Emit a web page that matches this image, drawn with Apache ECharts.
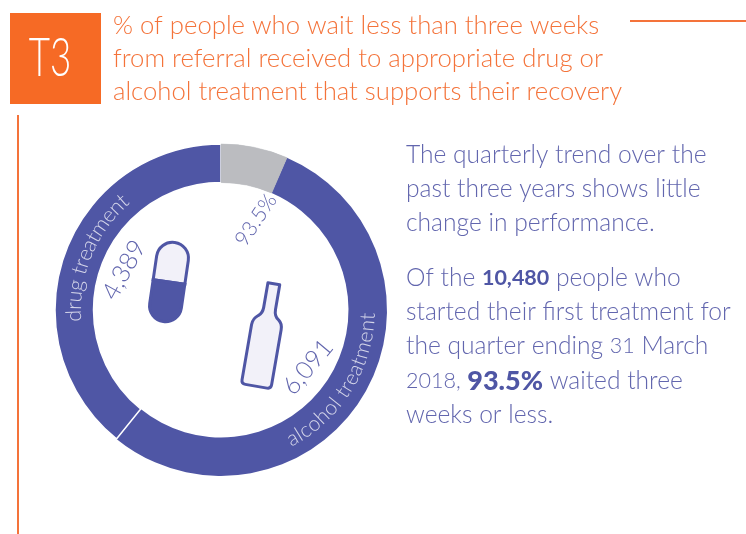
<!DOCTYPE html>
<html><head><meta charset="utf-8">
<style>html,body{margin:0;padding:0;background:#fff}#c{width:746px;height:534px}</style>
<script src="https://cdn.jsdelivr.net/npm/echarts@6/dist/echarts.min.js"></script></head>
<body><div id="c"></div>
<script>
const badge = 'T3';
const titleLines = ['% of people who wait less than three weeks','from referral received to appropriate drug or','alcohol treatment that supports their recovery'];
const bodyLines = ['The quarterly trend over the','past three years shows little','change in performance.','Of the {b|10,480} people who','started their first treatment for','the quarter ending {n|31} March','{n|2018,} {c|93.5%} waited three','weeks or less.'];
const bodyBaselines = [155,189,223,278,312,346,381,415];
const categories = ['waited longer','alcohol treatment','drug treatment'];
const values = [729,6091,4389];
const pct = '93.5%';
const FONT='Lato', ORANGE='#F4733A', BLUE='#4F56A5', TXT='#6266AE';
const cx=221, cy=310;

echarts.graphic.registerShape('pillTop',echarts.graphic.extendPath('M-16,0 V-24 A16,16 0 0 1 16,-24 V0 Z',{}));
echarts.graphic.registerShape('pillBottom',echarts.graphic.extendPath('M-16,0 V24 A16,16 0 0 0 16,24 V0 Z',{}));
echarts.graphic.registerShape('bottle',echarts.graphic.extendPath('M-6,-52 L6,-52 L6,-27 Q6,-20 11,-17 Q15,-14 15,-8 L15,48 Q15,52 11,52 L-11,52 Q-15,52 -15,48 L-15,-8 Q-15,-14 -10,-18 Q-6,-21 -6,-27 Z',{}));

function arcText(str, r, midDeg, dir, size){
  const ctx=document.createElement('canvas').getContext('2d');
  ctx.font='300 '+size+'px '+FONT;
  const total=ctx.measureText(str).width, out=[];
  for(let i=0;i<str.length;i++){
    const x=ctx.measureText(str.slice(0,i)).width+ctx.measureText(str[i]).width/2-total/2;
    const a=midDeg+dir*x/r*180/Math.PI, t=a*Math.PI/180;
    out.push({type:'text',x:cx+r*Math.sin(t),y:cy-r*Math.cos(t),
      rotation:dir>0?-t:Math.PI-t,z:10,
      style:{text:str[i],fill:'#D5D6EA',font:'300 '+size+'px '+FONT,align:'center',verticalAlign:'middle'}});
  }
  return out;
}
function rot(text,x,y,deg,size){return {type:'text',x,y,rotation:deg*Math.PI/180,z:10,
  style:{text,fill:TXT,font:'300 '+size+'px '+FONT,align:'center',verticalAlign:'middle'}};}

const g=[
 {type:'rect',shape:{x:10,y:13,width:91,height:91},style:{fill:'#F66A25'}},
 {type:'text',x:50,y:59,scaleX:0.68,style:{text:badge,fill:'#fff',font:'300 54px '+FONT,align:'center',verticalAlign:'middle'}},
 {type:'rect',shape:{x:630,y:20,width:116,height:2},style:{fill:ORANGE}},
 {type:'rect',shape:{x:17,y:115,width:2,height:419},style:{fill:ORANGE}},
];
titleLines.forEach((t,i)=>g.push({type:'text',x:113,y:26+33*i,style:{text:t,fill:ORANGE,font:'300 25.7px '+FONT,align:'left',verticalAlign:'middle'}}));
bodyLines.forEach((t,i)=>g.push({type:'text',x:406,y:bodyBaselines[i],style:{text:t,fill:TXT,font:'300 24.6px '+FONT,align:'left',verticalAlign:'middle',
  rich:{b:{font:'700 21.5px '+FONT,fill:BLUE},c:{font:'900 27px '+FONT,fill:BLUE},n:{font:'300 21.5px '+FONT,fill:TXT}}}}));
g.push(rot(pct,256,220,56,21),rot(values[2].toLocaleString('en-US'),124,270,61,25),rot(values[1].toLocaleString('en-US'),308,367,50,25));
g.push(...arcText(categories[2],147,292.5,1,21.5),...arcText(categories[1],147,122,-1,21));
// pill
g.push({type:'group',x:169,y:282,rotation:-8.3*Math.PI/180,children:[
 {type:'pillTop',z:10,style:{fill:'#F2F1F9',stroke:BLUE,lineWidth:3}},
 {type:'pillBottom',z:10,style:{fill:BLUE,stroke:BLUE,lineWidth:3}}
]});
// bottle
g.push({type:'bottle',x:265,y:335,rotation:-9.8*Math.PI/180,z:10,
 style:{fill:'#F2F1F9',stroke:BLUE,lineWidth:3,lineJoin:'round'}});

const ring=values.map((v,i)=>({name:categories[i],value:v,itemStyle:{color:i===0?'#BBBCC0':BLUE,
  borderColor:i===2?'#fff':undefined,borderWidth:i===2?1.5:0}}));
const total=values.reduce((a,b)=>a+b,0);
const chart=echarts.init(document.getElementById('c'),null,{renderer:'canvas'});
chart.setOption({animation:false,backgroundColor:'#fff',
 series:[
  {type:'pie',center:[cx,cy],radius:[127.5,166],startAngle:90,clockwise:true,label:{show:false},labelLine:{show:false},silent:true,data:ring},
  {type:'pie',center:[cx,cy],radius:[127.5,166],startAngle:90,clockwise:true,label:{show:false},labelLine:{show:false},silent:true,
   data:[{name:categories[0],value:values[0],itemStyle:{color:'#BBBCC0',borderColor:'#BBBCC0',borderWidth:0.5}},{name:'rest',value:total-values[0],itemStyle:{color:'transparent'}}]}
 ],
 graphic:{elements:g}});
</script></body></html>
